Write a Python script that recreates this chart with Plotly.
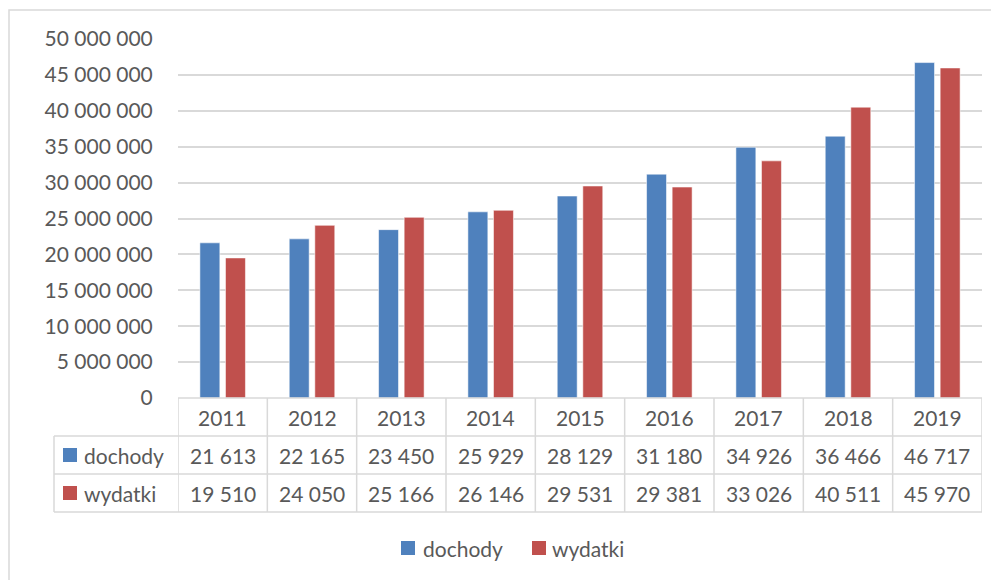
import plotly.graph_objects as go

years = ['2011', '2012', '2013', '2014', '2015', '2016', '2017', '2018', '2019']
dochody = [21613, 22165, 23450, 25929, 28129, 31180, 34926, 36466, 46717]   # tys.
wydatki = [19510, 24050, 25166, 26146, 29531, 29381, 33026, 40511, 45970]   # tys.
series_names = ['dochody', 'wydatki']
y_ticks = [0, 5e6, 10e6, 15e6, 20e6, 25e6, 30e6, 35e6, 40e6, 45e6, 50e6]

BLUE = '#4F81BD'
RED = '#C0504D'
GRID = '#D9D9D9'
TXT = '#595959'
FONT = 'Lato'
FS = 21

OFF = 8  # page body margin
W, H = 999 - OFF, 580 - OFF
PLOT_X0, PLOT_X1, PLOT_Y0, PLOT_Y1 = 178, 982, 39, 398  # in screen pixels
L, T = PLOT_X0 - OFF, PLOT_Y0 - OFF
PW, PH = PLOT_X1 - PLOT_X0, PLOT_Y1 - PLOT_Y0
R, B = W - L - PW, H - T - PH


def fmt(v):
    return f"{int(v):,}".replace(',', ' ')


def px_x(p):
    return (p - PLOT_X0) / PW


def px_y(p):
    return (PLOT_Y1 - p) / PH


fig = go.Figure()
colors = [BLUE, RED]
for name, vals, col in zip(series_names, [dochody, wydatki], colors):
    fig.add_trace(go.Bar(
        x=years, y=[v * 1000 for v in vals], name=name,
        marker=dict(color=col, line=dict(color='rgba(255,255,255,0.55)', width=1)),
    ))

shapes = []
line = dict(color=GRID, width=1.5)
# outer chart border
shapes.append(dict(type='rect', xref='paper', yref='paper',
                   x0=px_x(9), x1=px_x(1200), y0=px_y(10), y1=px_y(800),
                   line=line, layer='below'))
# table horizontal lines
shapes.append(dict(type='line', xref='paper', yref='paper', x0=px_x(178), x1=px_x(982),
                   y0=px_y(398), y1=px_y(398), line=line))
for yy in [436, 474, 512]:
    shapes.append(dict(type='line', xref='paper', yref='paper', x0=px_x(54), x1=px_x(982),
                       y0=px_y(yy), y1=px_y(yy), line=line))
# table vertical lines
shapes.append(dict(type='line', xref='paper', yref='paper', x0=px_x(54), x1=px_x(54),
                   y0=px_y(436), y1=px_y(512), line=line))
for i in range(len(years) + 1):
    shapes.append(dict(type='line', xref='x', yref='paper', x0=i - 0.5, x1=i - 0.5,
                       y0=px_y(398), y1=px_y(512), line=line))
# legend keys inside table
row_centers = [455, 493]
for col, yc in zip(colors, row_centers):
    shapes.append(dict(type='rect', xref='paper', yref='paper',
                       x0=px_x(63), x1=px_x(77), y0=px_y(yc - 7), y1=px_y(yc + 7),
                       fillcolor=col, line=dict(width=0)))
# bottom legend keys
legend_keys = [401, 532]
legend_text_x = [421, 550]
for col, kx in zip(colors, legend_keys):
    shapes.append(dict(type='rect', xref='paper', yref='paper',
                       x0=px_x(kx), x1=px_x(kx + 14), y0=px_y(541), y1=px_y(555),
                       fillcolor=col, line=dict(width=0)))

annotations = []
font = dict(family=FONT, size=FS, color=TXT)
for i, yr in enumerate(years):
    annotations.append(dict(x=i, y=px_y(417), xref='x', yref='paper', text=yr,
                            showarrow=False, xanchor='center', yanchor='middle', font=font))
for name, vals, yc in zip(series_names, [dochody, wydatki], row_centers):
    annotations.append(dict(x=px_x(82), y=px_y(yc), xref='paper', yref='paper', text=name,
                            showarrow=False, xanchor='left', yanchor='middle', font=font))
    for i, v in enumerate(vals):
        annotations.append(dict(x=i, y=px_y(yc), xref='x', yref='paper', text=fmt(v),
                                showarrow=False, xanchor='center', yanchor='middle', font=font))
for name, tx in zip(series_names, legend_text_x):
    annotations.append(dict(x=px_x(tx), y=px_y(548), xref='paper', yref='paper', text=name,
                            showarrow=False, xanchor='left', yanchor='middle', font=font))

fig.update_layout(
    width=W, height=H,
    margin=dict(l=L, r=R, t=T, b=B, pad=0),
    paper_bgcolor='white', plot_bgcolor='white',
    barmode='group', bargap=0.427, bargroupgap=0.22,
    font=font,
    xaxis=dict(type='category', range=[-0.5, len(years) - 0.5], showticklabels=False,
               showgrid=False, zeroline=False, showline=False, ticks=''),
    yaxis=dict(range=[0, 50e6], tickvals=y_ticks, ticktext=[fmt(v) for v in y_ticks],
               showgrid=True, gridcolor=GRID, gridwidth=1.5, zeroline=False, showline=False,
               ticks='outside', ticklen=20, tickcolor='rgba(0,0,0,0)', tickfont=font),
    showlegend=False,
    shapes=shapes, annotations=annotations,
)

fig.write_html('out.html')
